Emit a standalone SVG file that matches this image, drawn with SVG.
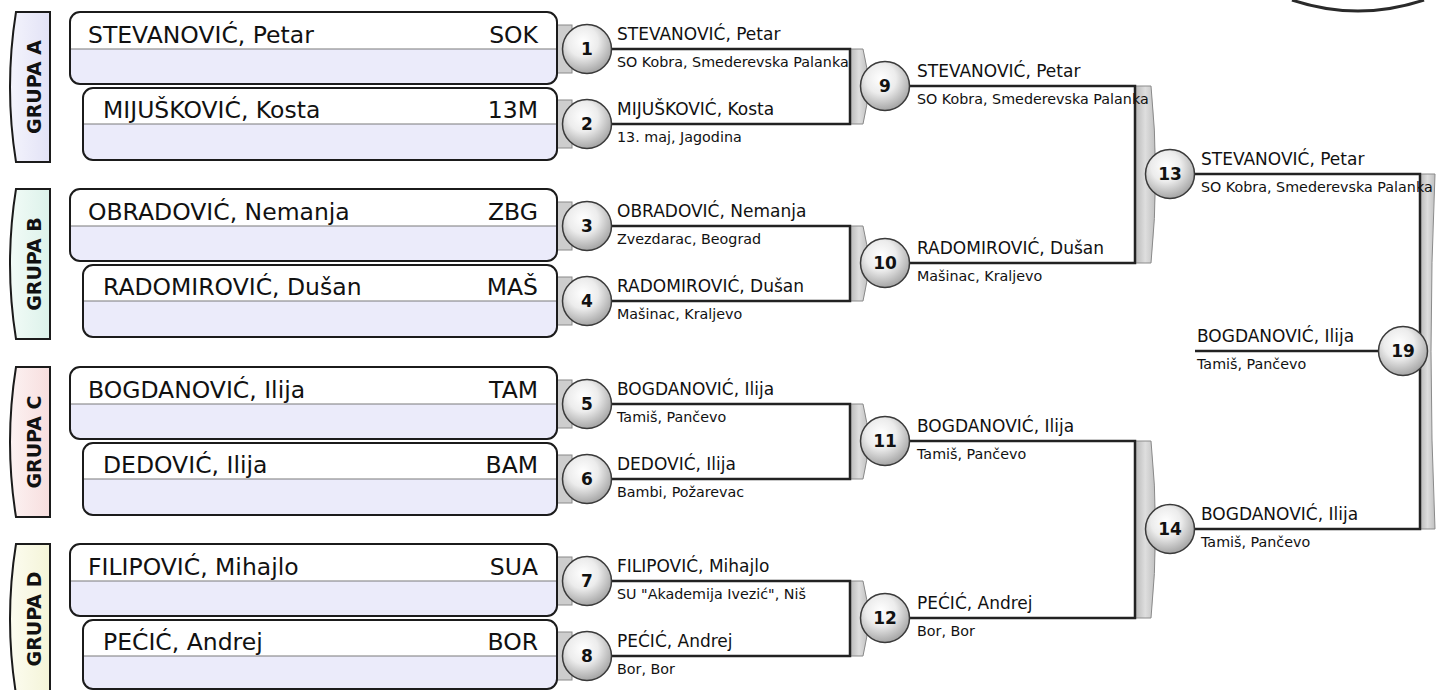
<svg xmlns="http://www.w3.org/2000/svg" width="1437" height="690" viewBox="0 0 1437 690">
<defs>
<radialGradient id="ball" cx="42%" cy="35%" r="68%">
<stop offset="0" stop-color="#ffffff"/>
<stop offset="0.45" stop-color="#ececec"/>
<stop offset="1" stop-color="#a0a0a0"/>
</radialGradient>
<linearGradient id="tabg" x1="0" y1="0" x2="1" y2="0">
<stop offset="0" stop-color="#b8b8b8"/>
<stop offset="0.5" stop-color="#dedede"/>
<stop offset="1" stop-color="#c0c0c0"/>
</linearGradient>
<linearGradient id="gA" x1="0" y1="0" x2="1" y2="0"><stop offset="0" stop-color="#f4f4fc"/><stop offset="1" stop-color="#e2e2f6"/></linearGradient>
<linearGradient id="gB" x1="0" y1="0" x2="1" y2="0"><stop offset="0" stop-color="#f2fbf7"/><stop offset="1" stop-color="#dcf2ea"/></linearGradient>
<linearGradient id="gC" x1="0" y1="0" x2="1" y2="0"><stop offset="0" stop-color="#fcf2f2"/><stop offset="1" stop-color="#f7dede"/></linearGradient>
<linearGradient id="gD" x1="0" y1="0" x2="1" y2="0"><stop offset="0" stop-color="#fcfcf0"/><stop offset="1" stop-color="#f4f4d8"/></linearGradient>
</defs>
<style>
.ln{fill:none;stroke:#222;stroke-width:2.5}
.tab{fill:url(#tabg);stroke:#8a8a8a;stroke-width:1}
.t1{fill:#cdcdcd;stroke:#8a8a8a;stroke-width:1}
.low{fill:#ebebfa}
.top{fill:#ffffff}
.dv{stroke:#7a7a7a;stroke-width:1.2}
.box{fill:none;stroke:#1b1b1b;stroke-width:2}
.gl{stroke:#1b1b1b;stroke-width:2}
.ball{fill:url(#ball);stroke:#3a3a3a;stroke-width:1.5}
.nm{font-family:"DejaVu Sans",sans-serif;font-size:23.5px;fill:#111}
.cd{font-family:"DejaVu Sans",sans-serif;font-size:23.5px;fill:#111;text-anchor:end}
.sn{font-family:"DejaVu Sans",sans-serif;font-size:17px;fill:#111}
.sc{font-family:"DejaVu Sans",sans-serif;font-size:14.3px;fill:#111}
.num{font-family:"DejaVu Sans",sans-serif;font-size:17px;font-weight:bold;fill:#111;text-anchor:middle}
.grp{font-family:"DejaVu Sans",sans-serif;font-size:19px;font-weight:bold;fill:#111;text-anchor:middle}
</style>

<path d="M1292,0 Q1358,22 1424,0" fill="none" stroke="#2a2a2a" stroke-width="3"/>

<g id="connectors">
<rect class="t1" x="557" y="25" width="15" height="48"/>
<rect class="t1" x="557" y="100" width="15" height="48"/>
<rect class="t1" x="557" y="202" width="15" height="48"/>
<rect class="t1" x="557" y="277" width="15" height="48"/>
<rect class="t1" x="557" y="380" width="15" height="48"/>
<rect class="t1" x="557" y="455" width="15" height="48"/>
<rect class="t1" x="557" y="557" width="15" height="48"/>
<rect class="t1" x="557" y="632" width="15" height="48"/>
<path class="tab" d="M850,49 H863 Q873,86 863,124 H850 Z"/>
<path class="tab" d="M850,226 H863 Q873,263 863,301 H850 Z"/>
<path class="tab" d="M850,404 H863 Q873,441 863,479 H850 Z"/>
<path class="tab" d="M850,581 H863 Q873,618 863,656 H850 Z"/>
<path class="tab" d="M1135,86 H1151 Q1160,174 1151,263 H1135 Z"/>
<path class="tab" d="M1135,441 H1151 Q1160,529 1151,618 H1135 Z"/>
<path class="tab" d="M1420,174 H1435 Q1427,351 1435,529 H1420 Z"/>
<path class="ln" d="M611,49 H850 V124 H611"/>
<path class="ln" d="M611,226 H850 V301 H611"/>
<path class="ln" d="M611,404 H850 V479 H611"/>
<path class="ln" d="M611,581 H850 V656 H611"/>
<path class="ln" d="M909,86 H1135 V263 H909"/>
<path class="ln" d="M909,441 H1135 V618 H909"/>
<path class="ln" d="M1194,174 H1420 V529 H1194"/>
<path class="ln" d="M1195,351 H1379"/>
</g>

<g id="group-a">
<path d="M50,12 H16 Q4,87 16,162 H50 Z" fill="url(#gA)" class="gl"/>
<text class="grp" transform="translate(41,87) rotate(-90)">GRUPA A</text>
</g>
<g id="group-b">
<path d="M50,189 H16 Q4,264 16,339 H50 Z" fill="url(#gB)" class="gl"/>
<text class="grp" transform="translate(41,264) rotate(-90)">GRUPA B</text>
</g>
<g id="group-c">
<path d="M50,367 H16 Q4,442 16,517 H50 Z" fill="url(#gC)" class="gl"/>
<text class="grp" transform="translate(41,442) rotate(-90)">GRUPA C</text>
</g>
<g id="group-d">
<path d="M50,544 H16 Q4,619 16,694 H50 Z" fill="url(#gD)" class="gl"/>
<text class="grp" transform="translate(41,619) rotate(-90)">GRUPA D</text>
</g>

<g id="player-1">
<rect class="low" x="70" y="12" width="487" height="72" rx="10"/>
<path class="top" d="M70,49 V22 A10,10 0 0 1 80,12 H547 A10,10 0 0 1 557,22 V49 Z"/>
<line class="dv" x1="70" y1="49" x2="557" y2="49"/>
<rect class="box" x="70" y="12" width="487" height="72" rx="10"/>
<text class="nm" x="88" y="43">STEVANOVIĆ, Petar</text>
<text class="cd" x="538" y="43">SOK</text>
</g>
<g id="player-2">
<rect class="low" x="83" y="88" width="474" height="72" rx="10"/>
<path class="top" d="M83,124 V98 A10,10 0 0 1 93,88 H547 A10,10 0 0 1 557,98 V124 Z"/>
<line class="dv" x1="83" y1="124" x2="557" y2="124"/>
<rect class="box" x="83" y="88" width="474" height="72" rx="10"/>
<text class="nm" x="103" y="118">MIJUŠKOVIĆ, Kosta</text>
<text class="cd" x="538" y="118">13M</text>
</g>
<g id="player-3">
<rect class="low" x="70" y="189" width="487" height="72" rx="10"/>
<path class="top" d="M70,226 V199 A10,10 0 0 1 80,189 H547 A10,10 0 0 1 557,199 V226 Z"/>
<line class="dv" x1="70" y1="226" x2="557" y2="226"/>
<rect class="box" x="70" y="189" width="487" height="72" rx="10"/>
<text class="nm" x="88" y="220">OBRADOVIĆ, Nemanja</text>
<text class="cd" x="538" y="220">ZBG</text>
</g>
<g id="player-4">
<rect class="low" x="83" y="265" width="474" height="72" rx="10"/>
<path class="top" d="M83,301 V275 A10,10 0 0 1 93,265 H547 A10,10 0 0 1 557,275 V301 Z"/>
<line class="dv" x1="83" y1="301" x2="557" y2="301"/>
<rect class="box" x="83" y="265" width="474" height="72" rx="10"/>
<text class="nm" x="103" y="295">RADOMIROVIĆ, Dušan</text>
<text class="cd" x="538" y="295">MAŠ</text>
</g>
<g id="player-5">
<rect class="low" x="70" y="367" width="487" height="72" rx="10"/>
<path class="top" d="M70,404 V377 A10,10 0 0 1 80,367 H547 A10,10 0 0 1 557,377 V404 Z"/>
<line class="dv" x1="70" y1="404" x2="557" y2="404"/>
<rect class="box" x="70" y="367" width="487" height="72" rx="10"/>
<text class="nm" x="88" y="398">BOGDANOVIĆ, Ilija</text>
<text class="cd" x="538" y="398">TAM</text>
</g>
<g id="player-6">
<rect class="low" x="83" y="443" width="474" height="72" rx="10"/>
<path class="top" d="M83,479 V453 A10,10 0 0 1 93,443 H547 A10,10 0 0 1 557,453 V479 Z"/>
<line class="dv" x1="83" y1="479" x2="557" y2="479"/>
<rect class="box" x="83" y="443" width="474" height="72" rx="10"/>
<text class="nm" x="103" y="473">DEDOVIĆ, Ilija</text>
<text class="cd" x="538" y="473">BAM</text>
</g>
<g id="player-7">
<rect class="low" x="70" y="544" width="487" height="72" rx="10"/>
<path class="top" d="M70,581 V554 A10,10 0 0 1 80,544 H547 A10,10 0 0 1 557,554 V581 Z"/>
<line class="dv" x1="70" y1="581" x2="557" y2="581"/>
<rect class="box" x="70" y="544" width="487" height="72" rx="10"/>
<text class="nm" x="88" y="575">FILIPOVIĆ, Mihajlo</text>
<text class="cd" x="538" y="575">SUA</text>
</g>
<g id="player-8">
<rect class="low" x="83" y="620" width="474" height="70" rx="10"/>
<path class="top" d="M83,656 V630 A10,10 0 0 1 93,620 H547 A10,10 0 0 1 557,630 V656 Z"/>
<line class="dv" x1="83" y1="656" x2="557" y2="656"/>
<rect class="box" x="83" y="620" width="474" height="69" rx="10"/>
<text class="nm" x="103" y="650">PEĆIĆ, Andrej</text>
<text class="cd" x="538" y="650">BOR</text>
</g>

<g id="match-1"><circle class="ball" cx="587" cy="49" r="24.5"/><text class="num" x="587" y="55">1</text>
<text class="sn" x="617" y="39.5">STEVANOVIĆ, Petar</text><text class="sc" x="617" y="66.5">SO Kobra, Smederevska Palanka</text></g>
<g id="match-2"><circle class="ball" cx="587" cy="124" r="24.5"/><text class="num" x="587" y="130">2</text>
<text class="sn" x="617" y="114.5">MIJUŠKOVIĆ, Kosta</text><text class="sc" x="617" y="141.5">13. maj, Jagodina</text></g>
<g id="match-3"><circle class="ball" cx="587" cy="226" r="24.5"/><text class="num" x="587" y="232">3</text>
<text class="sn" x="617" y="216.5">OBRADOVIĆ, Nemanja</text><text class="sc" x="617" y="243.5">Zvezdarac, Beograd</text></g>
<g id="match-4"><circle class="ball" cx="587" cy="301" r="24.5"/><text class="num" x="587" y="307">4</text>
<text class="sn" x="617" y="291.5">RADOMIROVIĆ, Dušan</text><text class="sc" x="617" y="318.5">Mašinac, Kraljevo</text></g>
<g id="match-5"><circle class="ball" cx="587" cy="404" r="24.5"/><text class="num" x="587" y="410">5</text>
<text class="sn" x="617" y="394.5">BOGDANOVIĆ, Ilija</text><text class="sc" x="617" y="421.5">Tamiš, Pančevo</text></g>
<g id="match-6"><circle class="ball" cx="587" cy="479" r="24.5"/><text class="num" x="587" y="485">6</text>
<text class="sn" x="617" y="469.5">DEDOVIĆ, Ilija</text><text class="sc" x="617" y="496.5">Bambi, Požarevac</text></g>
<g id="match-7"><circle class="ball" cx="587" cy="581" r="24.5"/><text class="num" x="587" y="587">7</text>
<text class="sn" x="617" y="571.5">FILIPOVIĆ, Mihajlo</text><text class="sc" x="617" y="598.5">SU "Akademija Ivezić", Niš</text></g>
<g id="match-8"><circle class="ball" cx="587" cy="656" r="24.5"/><text class="num" x="587" y="662">8</text>
<text class="sn" x="617" y="646.5">PEĆIĆ, Andrej</text><text class="sc" x="617" y="673.5">Bor, Bor</text></g>

<g id="match-9"><circle class="ball" cx="885" cy="86" r="24.5"/><text class="num" x="885" y="92">9</text>
<text class="sn" x="917" y="76.5">STEVANOVIĆ, Petar</text><text class="sc" x="917" y="103.5">SO Kobra, Smederevska Palanka</text></g>
<g id="match-10"><circle class="ball" cx="885" cy="263" r="24.5"/><text class="num" x="885" y="269">10</text>
<text class="sn" x="917" y="253.5">RADOMIROVIĆ, Dušan</text><text class="sc" x="917" y="280.5">Mašinac, Kraljevo</text></g>
<g id="match-11"><circle class="ball" cx="885" cy="441" r="24.5"/><text class="num" x="885" y="447">11</text>
<text class="sn" x="917" y="431.5">BOGDANOVIĆ, Ilija</text><text class="sc" x="917" y="458.5">Tamiš, Pančevo</text></g>
<g id="match-12"><circle class="ball" cx="885" cy="618" r="24.5"/><text class="num" x="885" y="624">12</text>
<text class="sn" x="917" y="608.5">PEĆIĆ, Andrej</text><text class="sc" x="917" y="635.5">Bor, Bor</text></g>

<g id="match-13"><circle class="ball" cx="1170" cy="174" r="24.5"/><text class="num" x="1170" y="180">13</text>
<text class="sn" x="1201" y="164.5">STEVANOVIĆ, Petar</text><text class="sc" x="1201" y="191.5">SO Kobra, Smederevska Palanka</text></g>
<g id="match-14"><circle class="ball" cx="1170" cy="529" r="24.5"/><text class="num" x="1170" y="535">14</text>
<text class="sn" x="1201" y="519.5">BOGDANOVIĆ, Ilija</text><text class="sc" x="1201" y="546.5">Tamiš, Pančevo</text></g>

<g id="match-19"><circle class="ball" cx="1403" cy="351" r="24.5"/><text class="num" x="1403" y="357">19</text>
<text class="sn" x="1197" y="341.5">BOGDANOVIĆ, Ilija</text><text class="sc" x="1197" y="368.5">Tamiš, Pančevo</text></g>
</svg>
